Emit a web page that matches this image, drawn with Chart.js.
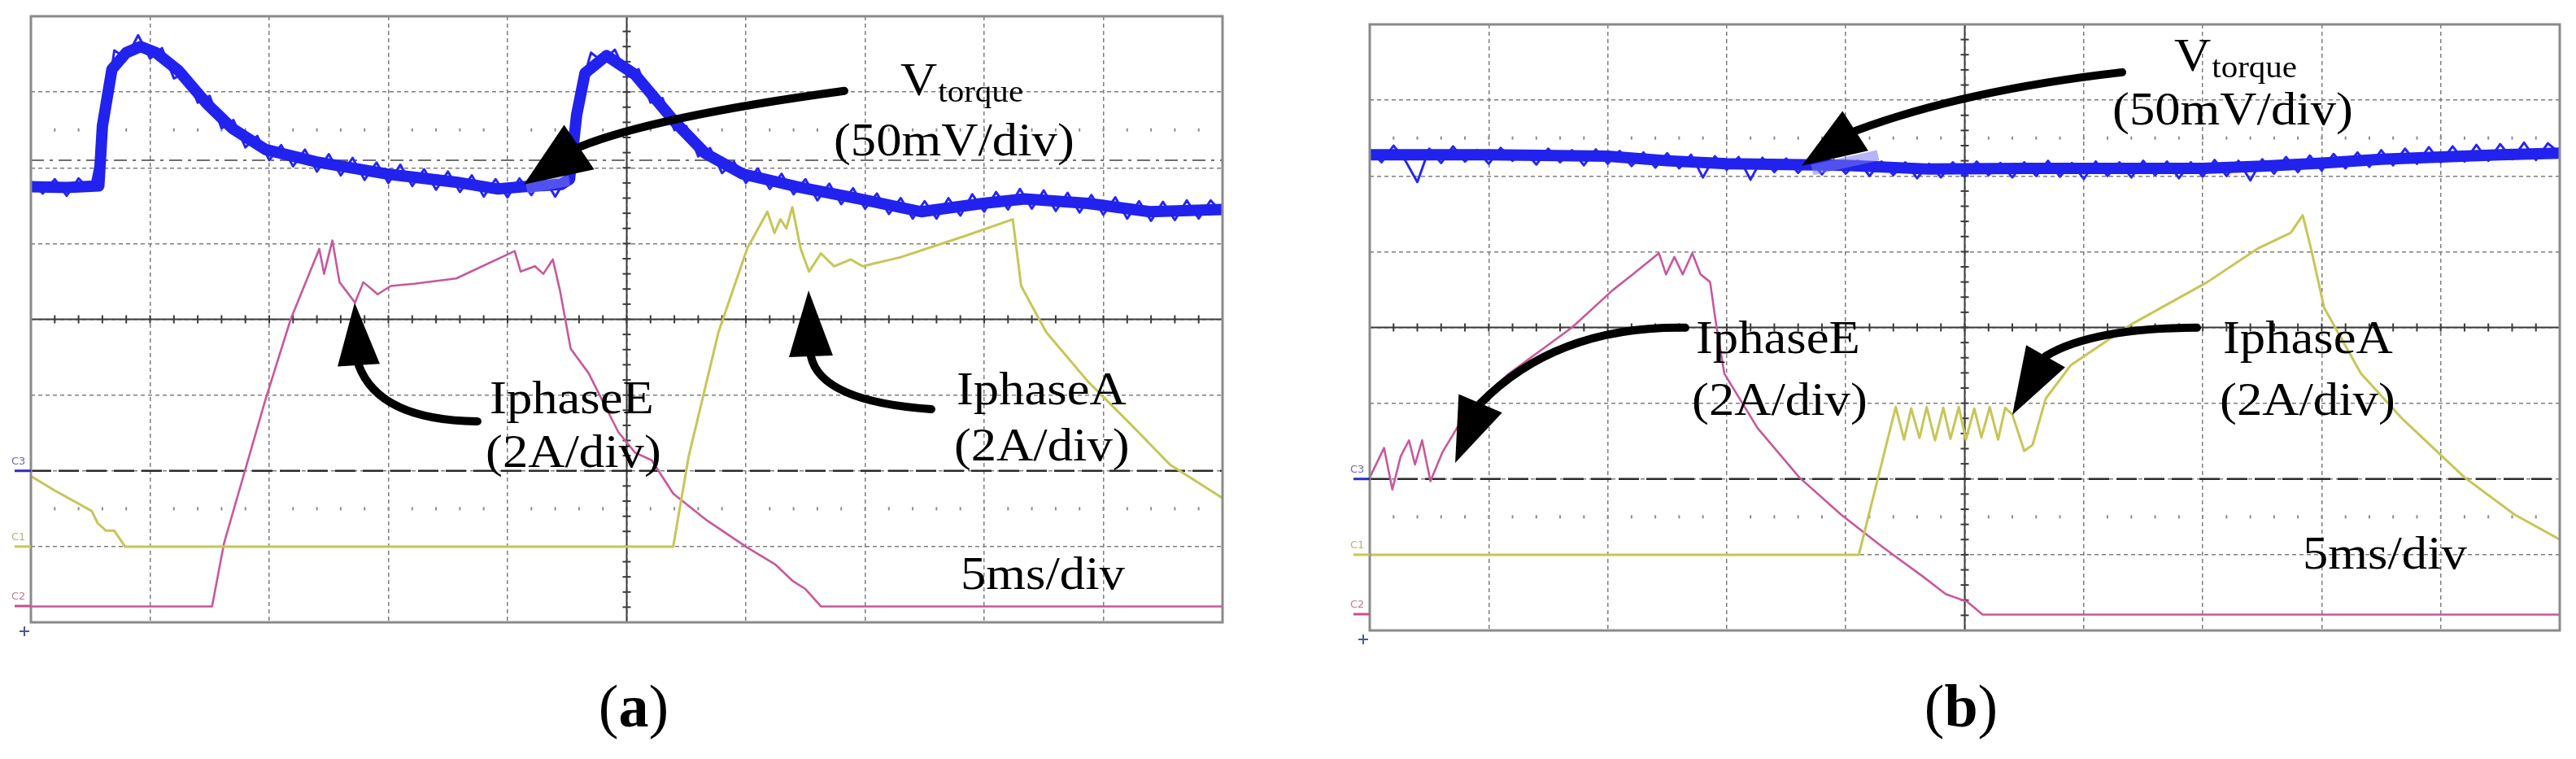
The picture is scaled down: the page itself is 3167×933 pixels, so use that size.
<!DOCTYPE html>
<html><head><meta charset="utf-8">
<script src="https://cdn.jsdelivr.net/npm/chart.js@4.4.0/dist/chart.umd.min.js"></script>
<style>
html,body{margin:0;padding:0;background:#fff;width:3167px;height:933px;overflow:hidden}
canvas{position:absolute;left:0;top:0}
</style></head><body>
<canvas id="ca" width="3167" height="933"></canvas>
<canvas id="cb" width="3167" height="933"></canvas>
<script>
// ---------- DATA (x in time divisions 0..10, y in vertical divisions 0..8) ----------
const NOISE_STEP = 0.1; // sampling interval of the noisy V_torque record, in divisions

// panel (a)
const aBlueX = [0, 0.3, 0.57, 0.6, 0.68, 0.8, 0.92, 1.05, 1.24, 1.48, 1.69, 1.97, 2.39, 2.98, 3.57, 3.92, 4.13, 4.45, 4.52, 4.58, 4.65, 4.83, 5.07, 5.39, 5.66, 5.97, 6.43, 6.95, 7.47, 7.99, 8.34, 8.87, 9.39, 10];
const aBlueY = [5.75, 5.74, 5.76, 6.55, 7.30, 7.52, 7.60, 7.52, 7.28, 6.84, 6.52, 6.24, 6.08, 5.92, 5.81, 5.72, 5.75, 5.78, 5.85, 6.70, 7.25, 7.48, 7.23, 6.63, 6.19, 5.92, 5.75, 5.59, 5.42, 5.53, 5.59, 5.53, 5.42, 5.45];
const aBlueNoise = [5.82,5.66,5.85,5.63,5.86,5.70,6.45,7.55,7.45,7.75,7.44,
  7.58,7.18,7.26,6.86,6.95,6.52,6.63,6.27,6.42,6.10,
  6.30,6.02,6.24,5.95,6.18,5.90,6.13,5.84,6.07,5.80,
  6.04,5.76,5.98,5.71,5.95,5.68,5.90,5.62,5.85,5.61,
  5.86,5.64,5.88,5.62,5.88,6.95,7.52,7.40,7.56,7.22,
  7.30,6.86,6.92,6.50,6.55,6.15,6.26,5.93,6.08,5.80,
  5.99,5.72,5.92,5.65,5.85,5.57,5.79,5.52,5.73,5.46,
  5.66,5.39,5.60,5.33,5.56,5.33,5.60,5.37,5.65,5.42,
  5.68,5.45,5.72,5.46,5.70,5.43,5.67,5.41,5.64,5.38,
  5.61,5.33,5.56,5.30,5.55,5.31,5.57,5.33,5.57,5.40];
const aPinkX = [0, 1.52, 1.62, 1.97, 2.18, 2.42, 2.46, 2.53, 2.59, 2.72, 2.79, 2.91, 3.02, 3.22, 3.57, 4.06, 4.11, 4.23, 4.30, 4.38, 4.44, 4.53, 4.68, 4.93, 5.07, 5.21, 5.39, 5.66, 6.01, 6.25, 6.39, 6.50, 6.63, 10];
const aPinkY = [0.21, 0.21, 1.04, 2.95, 4.00, 4.93, 4.60, 5.04, 4.49, 4.22, 4.49, 4.33, 4.44, 4.47, 4.54, 4.90, 4.63, 4.70, 4.60, 4.79, 4.38, 3.61, 3.29, 2.51, 2.24, 2.14, 1.70, 1.36, 0.99, 0.76, 0.55, 0.44, 0.21, 0.21];
const aYellowX = [0, 0.20, 0.51, 0.56, 0.63, 0.70, 0.79, 5.39, 5.52, 5.77, 6.01, 6.18, 6.24, 6.29, 6.34, 6.39, 6.46, 6.53, 6.63, 6.74, 6.88, 6.98, 7.30, 7.82, 8.24, 8.31, 8.52, 8.87, 9.22, 9.56, 10];
const aYellowY = [1.93, 1.74, 1.47, 1.31, 1.21, 1.21, 1.00, 1.00, 2.19, 3.83, 4.93, 5.42, 5.14, 5.32, 5.20, 5.48, 4.93, 4.63, 4.87, 4.70, 4.79, 4.70, 4.82, 5.09, 5.32, 4.44, 3.83, 3.18, 2.63, 2.08, 1.64];

// panel (b)
const bBlueX = [0, 1, 2, 2.5, 3, 4, 4.7, 5.5, 6.5, 7, 7.5, 8, 8.5, 9, 9.5, 10];
const bBlueY = [6.28, 6.28, 6.26, 6.20, 6.16, 6.14, 6.09, 6.10, 6.10, 6.10, 6.13, 6.17, 6.22, 6.25, 6.28, 6.30];
const bBlueNoise = [6.35,6.18,6.40,6.20,5.92,6.36,6.17,6.39,6.19,6.34,6.16,
  6.37,6.20,6.33,6.15,6.36,6.18,6.34,6.14,6.35,6.16,
  6.33,6.13,6.31,6.11,6.30,6.10,6.28,5.98,6.26,6.08,
  6.25,5.95,6.24,6.05,6.23,6.04,6.22,6.02,6.21,6.03,
  6.20,6.00,6.19,6.01,6.18,5.97,6.16,5.98,6.18,5.99,
  6.19,6.01,6.17,5.98,6.18,6.00,6.20,5.99,6.17,5.96,
  6.19,6.00,6.18,5.98,6.20,6.01,6.19,5.97,6.18,5.99,
  6.21,6.00,6.20,5.94,6.22,6.03,6.25,6.05,6.27,6.07,
  6.29,6.10,6.31,6.12,6.34,6.14,6.36,6.16,6.38,6.18,
  6.39,6.19,6.41,6.20,6.42,6.22,6.44,6.21,6.43,6.30];
const bPinkX = [0, 0.12, 0.19, 0.26, 0.33, 0.38, 0.44, 0.51, 0.61, 0.82, 1.17, 1.70, 2.04, 2.21, 2.43, 2.49, 2.56, 2.63, 2.71, 2.78, 2.86, 2.91, 2.98, 3.26, 3.61, 3.96, 4.31, 4.65, 4.84, 5.02, 5.15, 10];
const bPinkY = [2.02, 2.41, 1.86, 2.30, 2.51, 2.19, 2.51, 1.97, 2.35, 2.90, 3.39, 4.00, 4.49, 4.70, 4.98, 4.70, 4.93, 4.70, 4.98, 4.70, 4.60, 4.05, 3.39, 2.67, 2.02, 1.53, 1.10, 0.71, 0.48, 0.38, 0.21, 0.21];
const bYellowX = [0, 4.11, 4.42, 4.49, 4.55, 4.62, 4.68, 4.75, 4.82, 4.88, 4.95, 5.01, 5.08, 5.14, 5.21, 5.28, 5.34, 5.40, 5.50, 5.57, 5.68, 5.89, 6.41, 7.04, 7.46, 7.74, 7.84, 7.91, 8.02, 8.33, 8.68, 9.20, 9.62, 10];
const bYellowY = [1.00, 1.00, 2.95, 2.52, 2.93, 2.54, 2.95, 2.51, 2.94, 2.53, 2.95, 2.52, 2.93, 2.55, 2.95, 2.52, 2.94, 2.85, 2.37, 2.45, 3.06, 3.50, 4.05, 4.60, 5.04, 5.25, 5.48, 5.04, 4.26, 3.39, 2.79, 2.02, 1.53, 1.20];

// ---------- helpers ----------
function pts(xs, ys){ return xs.map((x,i)=>({x:x, y:ys[i]})); }
function samples(ys){ return ys.map((y,i)=>({x:Math.round(i*NOISE_STEP*1000)/1000, y:y})); }

const SERIF = '"Liberation Serif","Times New Roman",serif';

function drawLabel(ctx, txt, x, y, size, sx){
  ctx.save(); ctx.translate(x,y); ctx.scale(sx,1);
  ctx.font = size+'px '+SERIF; ctx.textBaseline='alphabetic'; ctx.textAlign='left';
  ctx.fillStyle='#000'; ctx.fillText(txt,0,0); ctx.restore();
}

function scopePlugin(P){
  return {
    id: 'scope_'+P.name,
    beforeDatasetsDraw(chart){
      const ctx = chart.ctx, a = chart.chartArea, X = chart.scales.x, Y = chart.scales.y;
      const px = v=>X.getPixelForValue(v), py = v=>Y.getPixelForValue(v);
      const line=(x1,y1,x2,y2)=>{ctx.beginPath();ctx.moveTo(x1,y1);ctx.lineTo(x2,y2);ctx.stroke();};
      ctx.save();
      // dotted marker rows
      ctx.fillStyle='#8c8c8c';
      [6.5,1.5].forEach(r=>{ for(let k=1;k<50;k++){ ctx.fillRect(px(k*0.2)-1, py(r)-2, 2, 4);} });
      if (P.dashDot!=null){
        ctx.strokeStyle='#707070'; ctx.lineWidth=2; ctx.setLineDash([16,7,4,7]);
        line(a.left, py(P.dashDot), a.right, py(P.dashDot));
      }
      // centre axes with minor ticks
      ctx.setLineDash([]); ctx.strokeStyle='#3a3a3a'; ctx.lineWidth=2;
      line(px(5), a.top, px(5), a.bottom); line(a.left, py(4), a.right, py(4));
      for(let k=1;k<50;k++){ const xx=px(k*0.2); line(xx, py(4)-5, xx, py(4)+5); }
      for(let k=1;k<40;k++){ const yy=py(k*0.2); line(px(5)-5, yy, px(5)+5, yy); }
      // C3 ground reference
      ctx.strokeStyle='#2a2a2a'; ctx.lineWidth=2.6; ctx.setLineDash([25,9]);
      line(a.left, py(2), a.right, py(2));
      ctx.restore();
    },
    afterDatasetsDraw(chart){
      const ctx = chart.ctx, a = chart.chartArea, X = chart.scales.x, Y = chart.scales.y;
      const px = v=>X.getPixelForValue(v), py = v=>Y.getPixelForValue(v);
      ctx.save();
      // frame
      ctx.strokeStyle='#8a8a8a'; ctx.lineWidth=3; ctx.setLineDash([]);
      ctx.strokeRect(a.left, a.top, a.right-a.left, a.bottom-a.top);
      // channel markers
      const ch=[['C3',2,'#2a2ad0','#6a6aa8'],['C1',1,'#c8c850','#b4b478'],['C2',0.215,'#c8508c','#c27a9e']];
      ch.forEach(c=>{
        ctx.strokeStyle=c[2]; ctx.lineWidth=3;
        ctx.beginPath(); ctx.moveTo(a.left-20, py(c[1])); ctx.lineTo(a.left, py(c[1])); ctx.stroke();
        ctx.fillStyle=c[3]; ctx.font='13px "DejaVu Sans",sans-serif'; ctx.textBaseline='alphabetic';
        ctx.fillText(c[0], a.left-24, py(c[1])-8);
      });
      // trigger marker
      ctx.strokeStyle='#4a5a8a'; ctx.lineWidth=2;
      ctx.beginPath(); ctx.moveTo(a.left-14, a.bottom+11); ctx.lineTo(a.left-2, a.bottom+11);
      ctx.moveTo(a.left-8, a.bottom+5); ctx.lineTo(a.left-8, a.bottom+17); ctx.stroke();
      // light highlight near the V_torque arrow head
      ctx.strokeStyle='rgba(120,120,240,0.55)'; ctx.lineWidth=13; ctx.lineCap='butt';
      ctx.beginPath(); ctx.moveTo(px(P.patch[0]),py(P.patch[1])); ctx.lineTo(px(P.patch[2]),py(P.patch[3])); ctx.stroke();
      // arrows
      ctx.fillStyle='#000'; ctx.strokeStyle='#000';
      P.arrows.forEach(ar=>{
        const T=[px(ar.tail[0]),py(ar.tail[1])], C=[px(ar.ctrl[0]),py(ar.ctrl[1])],
              B=[px(ar.base[0]),py(ar.base[1])], H=[px(ar.tip[0]),py(ar.tip[1])];
        ctx.lineWidth=10; ctx.lineCap='round';
        ctx.beginPath(); ctx.moveTo(T[0],T[1]); ctx.quadraticCurveTo(C[0],C[1],B[0],B[1]); ctx.stroke();
        let dx=H[0]-B[0], dy=H[1]-B[1]; const L=Math.hypot(dx,dy); dx/=L; dy/=L;
        const w=ar.w/2;
        ctx.beginPath(); ctx.moveTo(H[0],H[1]);
        ctx.lineTo(B[0]-dy*w, B[1]+dx*w); ctx.lineTo(B[0]+dy*w, B[1]-dx*w); ctx.closePath(); ctx.fill();
      });
      // texts
      const FS=58, SX=1.08;
      P.texts.forEach(t=>{
        const x=px(t.at[0]), y=py(t.at[1]);
        if (t.sub){
          drawLabel(ctx, t.t, x, y, FS, SX);
          ctx.font=FS+'px '+SERIF; const w=ctx.measureText(t.t).width*SX;
          drawLabel(ctx, t.sub, x+w+1, y+8, 38, SX);
        } else drawLabel(ctx, t.t, x, y, FS, SX);
      });
      // caption "(x)"
      const cx=px(P.caption.at[0]), cy=py(P.caption.at[1]);
      ctx.fillStyle='#000'; ctx.textBaseline='alphabetic';
      ctx.font='74px '+SERIF; const wp=ctx.measureText('(').width, wq=ctx.measureText(')').width;
      ctx.font='bold 74px '+SERIF; const wl=ctx.measureText(P.caption.t).width;
      let sx0=cx-(wp+wl+wq)/2;
      ctx.font='74px '+SERIF; ctx.fillText('(',sx0,cy);
      ctx.font='bold 74px '+SERIF; ctx.fillText(P.caption.t,sx0+wp,cy);
      ctx.font='74px '+SERIF; ctx.fillText(')',sx0+wp+wl,cy);
      ctx.restore();
    }
  };
}

function makeChart(id, pad, d, P){
  const noAxis = s=>{ if(s.isHorizontal()) s.height=0; else s.width=0; };
  return new Chart(document.getElementById(id), {
    type:'line',
    data:{datasets:[
      {data:pts(d.yx,d.yy), borderColor:'#c6c658', borderWidth:3},
      {data:pts(d.px,d.py), borderColor:'#c7589a', borderWidth:2.6},
      {data:pts(d.bx,d.by), borderColor:'#2222ee', borderWidth:14},
      {data:samples(d.bn), borderColor:'#2626f2', borderWidth:3},
      {data:samples(d.bn), borderColor:'rgba(20,20,80,0.5)', borderWidth:1}
    ]},
    options:{
      responsive:false, animation:false, events:[],
      layout:{padding:pad},
      plugins:{legend:{display:false}, tooltip:{enabled:false}},
      elements:{point:{radius:0}, line:{tension:0, borderJoinStyle:'round', borderCapStyle:'butt'}},
      scales:{
        x:{type:'linear', min:0, max:10, ticks:{display:false, stepSize:1},
           grid:{drawTicks:false, color:'#7e7e7e', lineWidth:1.5}, border:{display:false, dash:[5,4]}, afterFit:noAxis},
        y:{type:'linear', min:0, max:8, ticks:{display:false, stepSize:1},
           grid:{drawTicks:false, color:'#7e7e7e', lineWidth:1.5}, border:{display:false, dash:[5,4]}, afterFit:noAxis}
      }
    },
    plugins:[scopePlugin(P)]
  });
}

makeChart('ca', {left:38, top:20, right:1664, bottom:168},
  {yx:aYellowX, yy:aYellowY, px:aPinkX, py:aPinkY, bx:aBlueX, by:aBlueY, bn:aBlueNoise},
  {name:'a', dashDot:6.10, patch:[4.16,5.73,4.52,5.83],
   arrows:[
     {tail:[6.826,7.014], ctrl:[5.235,6.676], base:[4.601,6.273], tip:[4.137,5.779], w:66},
     {tail:[3.747,2.653], ctrl:[2.921,2.669], base:[2.751,3.394], tip:[2.717,4.221], w:52},
     {tail:[7.556,2.814], ctrl:[6.628,2.916], base:[6.546,3.512], tip:[6.526,4.382], w:54}
   ],
   texts:[
     {t:'V', sub:'torque', at:[7.297,6.960]},
     {t:'(50mV/div)', at:[6.737,6.165]},
     {t:'IphaseE', at:[3.850,2.760]},
     {t:'(2A/div)', at:[3.816,2.052]},
     {t:'IphaseA', at:[7.768,2.879]},
     {t:'(2A/div)', at:[7.747,2.137]},
     {t:'5ms/div', at:[7.802,0.440]}
   ],
   caption:{t:'a', at:[5.058,-1.375]}
  });

makeChart('cb', {left:1684, top:30, right:20, bottom:158},
  {yx:bYellowX, yy:bYellowY, px:bPinkX, py:bPinkY, bx:bBlueX, by:bBlueY, bn:bBlueNoise},
  {name:'b', dashDot:null, patch:[3.718,6.080,4.272,6.273],
   arrows:[
     {tail:[6.323,7.368], ctrl:[4.997,7.132], base:[4.081,6.595], tip:[3.630,6.133], w:58},
     {tail:[2.652,3.996], ctrl:[1.572,4.023], base:[0.930,2.997], tip:[0.718,2.213], w:58},
     {tail:[6.951,3.996], ctrl:[6.070,3.990], base:[5.680,3.620], tip:[5.400,2.846], w:55}
   ],
   texts:[
     {t:'V', sub:'torque', at:[6.760,7.390]},
     {t:'(50mV/div)', at:[6.241,6.681]},
     {t:'IphaseE', at:[2.741,3.663]},
     {t:'(2A/div)', at:[2.707,2.846]},
     {t:'IphaseA', at:[7.170,3.663]},
     {t:'(2A/div)', at:[7.143,2.846]},
     {t:'5ms/div', at:[7.840,0.816]}
   ],
   caption:{t:'b', at:[4.969,-1.267]}
  });
</script>
</body></html>
